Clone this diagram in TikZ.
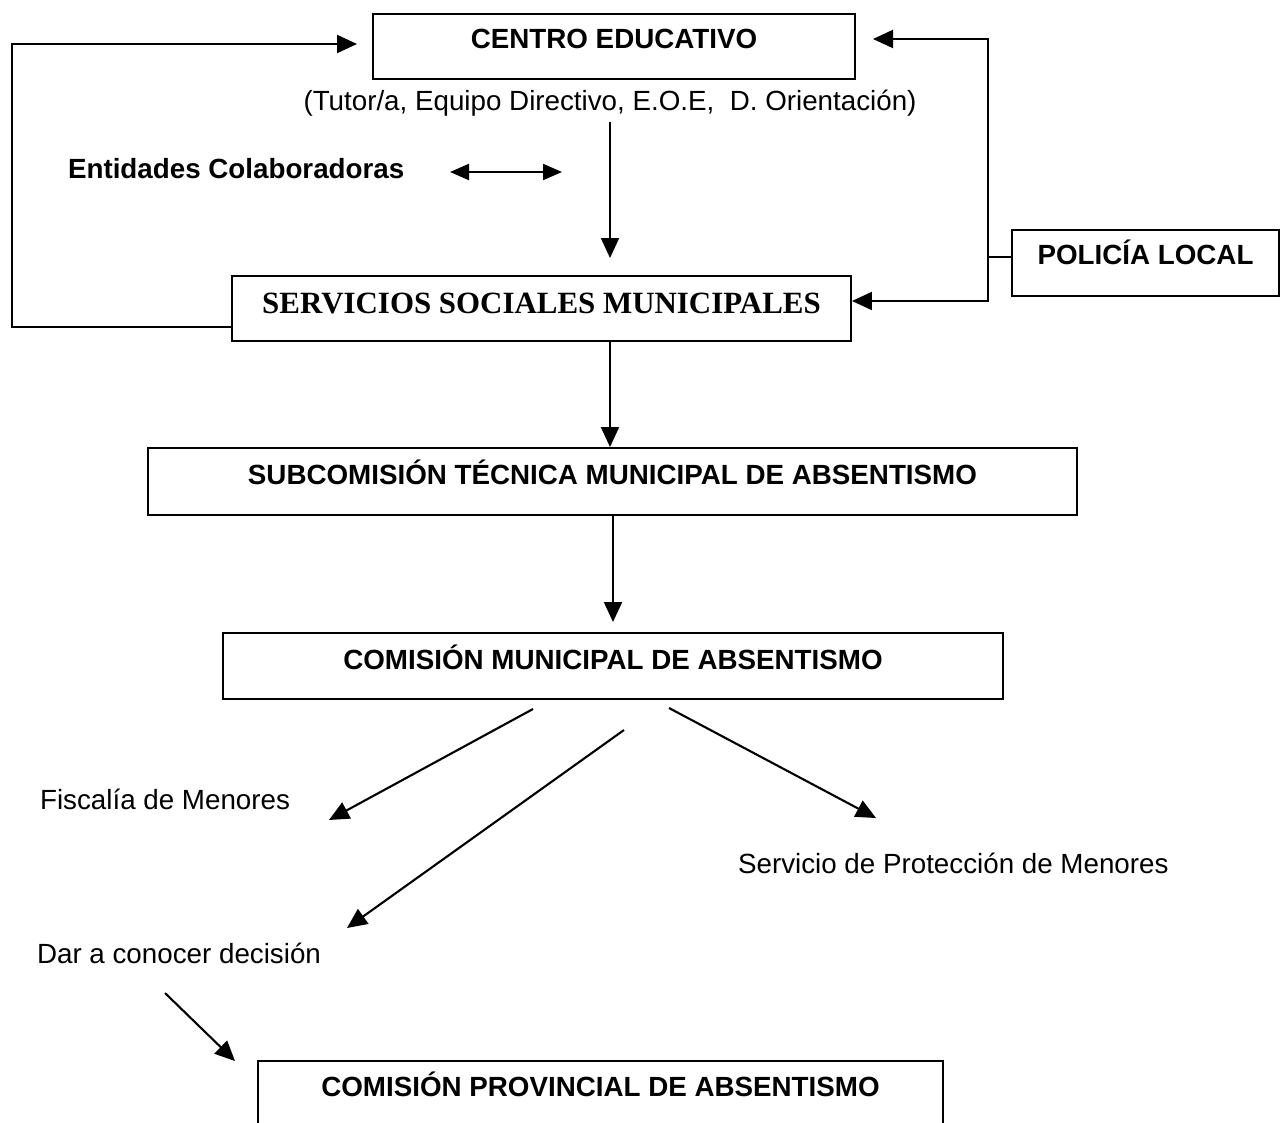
\documentclass[tikz,border=0pt]{standalone}
\usepackage{fontspec}
\setmainfont{Liberation Sans}
\newfontfamily\tnr{Liberation Serif}
\usetikzlibrary{arrows.meta,calc}
\begin{document}
\begin{tikzpicture}[x=0.02cm,y=-0.02cm, line width=1.2pt,
  box/.style={draw, rectangle, inner xsep=0pt, inner ysep=0pt, anchor=north west, font=\fontsize{15.8}{19}\selectfont\bfseries},
  arr/.style={-{Triangle[length=0.4cm,width=0.36cm]}},
  darr/.style={{Triangle[length=0.38cm,width=0.32cm]}-{Triangle[length=0.38cm,width=0.32cm]}},
  lbl/.style={inner sep=0pt, font=\fontsize{15.8}{19}\selectfont}]
\useasboundingbox (0,0) rectangle (1280,1122);
\clip (0,0) rectangle (1280,1122);
% boxes
\node[box, minimum width=9.64cm, text height=0.68cm, text depth=0.62cm] (centro) at (372,13) {CENTRO EDUCATIVO};
\node[box, minimum width=12.38cm, text height=0.74cm, text depth=0.56cm, font=\tnr\fontsize{17.6}{20}\selectfont\bfseries] (serv) at (231,275) {SERVICIOS SOCIALES MUNICIPALES};
\node[box, minimum width=5.34cm, text height=0.68cm, text depth=0.64cm] (police) at (1011,229) {POLICÍA LOCAL};
\node[box, minimum width=18.58cm, text height=0.72cm, text depth=0.62cm] (sub) at (147,447) {SUBCOMISIÓN TÉCNICA MUNICIPAL DE ABSENTISMO};
\node[box, minimum width=15.6cm, text height=0.72cm, text depth=0.6cm] (com) at (222,632) {COMISIÓN MUNICIPAL DE ABSENTISMO};
\node[box, minimum width=13.7cm, text height=0.7cm, text depth=1.6cm] (prov) at (257,1060) {COMISIÓN PROVINCIAL DE ABSENTISMO};
% labels
\node[lbl, anchor=base] (tutor) at (610,111) {(Tutor/a, Equipo Directivo, E.O.E,~ D. Orientación)};
\node[lbl, anchor=base west, font=\fontsize{15.8}{19}\selectfont\bfseries] (entid) at (67,178) {Entidades Colaboradoras};
\node[lbl, anchor=base west] (fisc) at (39,809) {Fiscalía de Menores};
\node[lbl, anchor=base west] (spm) at (737,873) {Servicio de Protección de Menores};
\node[lbl, anchor=base west] (dar) at (36,963) {Dar a conocer decisión};
% coordinates
\coordinate (t1) at (610,122);
\coordinate (t2) at (610,258);
\coordinate (e1) at (450,172);
\coordinate (e2) at (562,172);
\coordinate (ltip) at (357,44);
\coordinate (rj) at (988,257);
\coordinate (rtop) at (873,39);
\coordinate (d1s) at (533,709);
\coordinate (d1e) at (329,820);
\coordinate (d2s) at (624,730);
\coordinate (d2e) at (347,928);
\coordinate (d3s) at (669,708);
\coordinate (d3e) at (876,818);
\coordinate (d4s) at (165,993);
\coordinate (d4e) at (235,1061);
% connectors
\draw[arr] (t1) -- (t2);
\draw[darr] (e1) -- (e2);
\draw[arr] (serv.west |- 0,327) -- (12,327) -- (12,44) -- (ltip);
\draw (police.west |- rj) -- (rj);
\draw[arr] (rj) |- (rtop);
\draw[arr] (rj) |- (serv.east |- 0,301);
\draw[arr] (serv.south -| 610,0) -- (sub.north -| 610,0);
\draw[arr, shorten >=0.2cm] (sub.south -| 613,0) -- (com.north -| 613,0);
\draw[arr] (d1s) -- (d1e);
\draw[arr] (d2s) -- (d2e);
\draw[arr] (d3s) -- (d3e);
\draw[arr] (d4s) -- (d4e);
\end{tikzpicture}
\end{document}
